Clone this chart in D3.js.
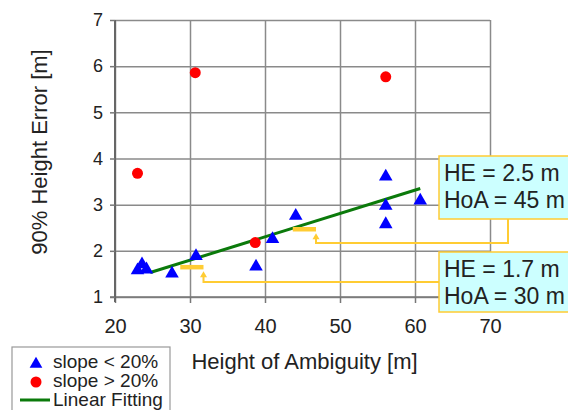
<!DOCTYPE html>
<html lang="en">
	<head>
		<meta charset="utf-8">
		<title>90% Height Error vs Height of Ambiguity</title>
		<script src="https://d3js.org/d3.v7.min.js"></script>
		<style type="text/css">
			body { margin: 0; background: #fff; }
			text { font-family: Arial, "Liberation Sans", sans-serif; fill: #222; }
		</style>
	</head>
	<body>
		<script type="text/javascript">
			//Size of the picture
			var width = 568;
			var height = 410;
			var plot = { left: 115, right: 490, top: 20, bottom: 297 };

			//Data
			var xTicks = [20, 30, 40, 50, 60, 70];
			var yTicks = [1, 2, 3, 4, 5, 6, 7];

			var lowSlopeHoA = [23.0, 23.6, 24.2, 27.6, 30.8, 38.8, 41.0, 44.1, 56.1, 56.1, 56.1, 60.7];
			var lowSlopeHE  = [1.62, 1.75, 1.64, 1.55, 1.93, 1.70, 2.30, 2.80, 3.65, 3.02, 2.62, 3.13];

			var highSlopeHoA = [30.7, 56.1, 23.0, 38.7];
			var highSlopeHE  = [5.86, 5.77, 3.68, 2.18];

			var fitHoA = [24.7, 60.7];
			var fitHE  = [1.53, 3.35];

			var noteHE  = ["2.5", "1.7"];
			var noteHoA = [45, 30];

			var x = d3.scaleLinear()
				.domain([20, 70])
				.range([plot.left, plot.right]);

			var y = d3.scaleLinear()
				.domain([1, 7])
				.range([plot.bottom, plot.top]);

			var svg = d3.select("body")
						.append("svg")
							.attr("width", width)
							.attr("height", height);

			//Grid lines
			svg.append("g")
				.attr("transform", "translate(0," + plot.bottom + ")")
				.call(d3.axisBottom(x).tickValues(xTicks).tickSize(-(plot.bottom - plot.top)).tickFormat(""))
				.call(function(g) { g.select(".domain").remove(); })
				.selectAll("line")
				.attr("stroke", "#8a8a8a")
				.attr("stroke-width", 1.5);

			svg.append("g")
				.attr("transform", "translate(" + plot.left + ",0)")
				.call(d3.axisLeft(y).tickValues(yTicks).tickSize(-(plot.right - plot.left)).tickFormat(""))
				.call(function(g) { g.select(".domain").remove(); })
				.selectAll("line")
				.attr("stroke", "#8a8a8a")
				.attr("stroke-width", 1.5);

			//Axes
			var xAxis = svg.append("g")
				.attr("transform", "translate(0," + plot.bottom + ")")
				.call(d3.axisBottom(x).tickValues(xTicks).tickFormat(d3.format("d")).tickSize(6).tickPadding(16).tickSizeOuter(0));
			xAxis.select(".domain").attr("d", "M" + (plot.left - 5) + ",0H" + plot.right).attr("stroke", "#777").attr("stroke-width", 1.5);
			xAxis.selectAll("line").attr("stroke", "#777").attr("stroke-width", 1.5);
			xAxis.selectAll("text").attr("font-size", "20px").attr("fill", "#222")
				.attr("font-family", "Arial, 'Liberation Sans', sans-serif");

			var yAxis = svg.append("g")
				.attr("transform", "translate(" + plot.left + ",0)")
				.call(d3.axisLeft(y).tickValues(yTicks).tickFormat(d3.format("d")).tickSize(5).tickPadding(7).tickSizeOuter(0));
			yAxis.select(".domain").attr("d", "M0," + plot.top + "V" + (plot.bottom + 5)).attr("stroke", "#666").attr("stroke-width", 2);
			yAxis.selectAll("line").attr("stroke", "#777").attr("stroke-width", 1.5);
			yAxis.selectAll("text").attr("font-size", "18px").attr("fill", "#222")
				.attr("font-family", "Arial, 'Liberation Sans', sans-serif");

			//Axis titles
			svg.append("text")
				.attr("x", (plot.left + plot.right) / 2 + 2)
				.attr("y", 369)
				.attr("text-anchor", "middle")
				.attr("font-size", "22px")
				.text("Height of Ambiguity [m]");

			svg.append("text")
				.attr("transform", "translate(47,152) rotate(-90)")
				.attr("text-anchor", "middle")
				.attr("font-size", "22px")
				.text("90% Height Error [m]");

			//Linear fitting
			svg.append("path")
				.datum(d3.zip(fitHoA, fitHE))
				.attr("fill", "none")
				.attr("stroke", "#0b7a0b")
				.attr("stroke-width", 3)
				.attr("d", d3.line().x(function(d) { return x(d[0]); }).y(function(d) { return y(d[1]); }));

			//Points
			svg.selectAll(".low")
				.data(d3.zip(lowSlopeHoA, lowSlopeHE))
				.enter()
				.append("path")
				.attr("class", "low")
				.attr("transform", function(d) { return "translate(" + x(d[0]) + "," + (y(d[1]) + 2) + ")"; })
				.attr("d", d3.symbol().type(d3.symbolTriangle).size(80))
				.attr("fill", "#0000ff");

			svg.selectAll(".high")
				.data(d3.zip(highSlopeHoA, highSlopeHE))
				.enter()
				.append("circle")
				.attr("class", "high")
				.attr("cx", function(d) { return x(d[0]); })
				.attr("cy", function(d) { return y(d[1]); })
				.attr("r", 5.5)
				.attr("fill", "#ff0000");

			//Annotations
			var gold = "#ffcc33";
			var boxes = [
				{ top: 156, h: 63, link: function(i) { return "M508,219V243H" + x(noteHoA[i] + 1.8) + "V" + (y(+noteHE[i]) + 9); } },
				{ top: 252, h: 60, link: function(i) { return "M439,282H" + x(noteHoA[i] + 1.8) + "V" + (y(+noteHE[i]) + 11); } }
			];

			boxes.forEach(function(b, i) {
				var barY = y(+noteHE[i]) + 1.5 + i;
				svg.append("line")
					.attr("x1", x(noteHoA[i] - 1.3))
					.attr("x2", x(noteHoA[i] + 1.8))
					.attr("y1", barY)
					.attr("y2", barY)
					.attr("stroke", gold)
					.attr("stroke-width", 4.5);

				svg.append("path")
					.attr("d", b.link(i))
					.attr("fill", "none")
					.attr("stroke", gold)
					.attr("stroke-width", 2);

				var ax = x(noteHoA[i] + 1.8);
				var ay = barY + 4;
				svg.append("path")
					.attr("d", "M" + ax + "," + ay + "l-3.5,6h7z")
					.attr("fill", gold);

				svg.append("rect")
					.attr("x", 439)
					.attr("y", b.top)
					.attr("width", 200)
					.attr("height", b.h)
					.attr("fill", "#ccffff")
					.attr("stroke", gold)
					.attr("stroke-width", 1.5);

				svg.append("text")
					.attr("x", 444)
					.attr("y", b.top + 25)
					.attr("font-size", "23px")
					.text("HE = " + noteHE[i] + " m");

				svg.append("text")
					.attr("x", 444)
					.attr("y", b.top + 52)
					.attr("font-size", "23px")
					.text("HoA = " + noteHoA[i] + " m");
			});

			//Legend
			var legend = svg.append("g");
			legend.append("rect")
				.attr("x", 12)
				.attr("y", 347)
				.attr("width", 158)
				.attr("height", 80)
				.attr("fill", "#fff")
				.attr("stroke", "#999")
				.attr("stroke-width", 1.2);

			legend.append("path")
				.attr("transform", "translate(36,364)")
				.attr("d", d3.symbol().type(d3.symbolTriangle).size(70))
				.attr("fill", "#0000ff");
			legend.append("circle")
				.attr("cx", 36)
				.attr("cy", 382)
				.attr("r", 5.5)
				.attr("fill", "#ff0000");
			legend.append("line")
				.attr("x1", 20)
				.attr("x2", 50)
				.attr("y1", 400)
				.attr("y2", 400)
				.attr("stroke", "#0b7a0b")
				.attr("stroke-width", 3);

			legend.selectAll(".item")
				.data(["slope < 20%", "slope > 20%", "Linear Fitting"])
				.enter()
				.append("text")
				.attr("class", "item")
				.attr("x", 53)
				.attr("y", function(d, i) { return 368 + i * 19; })
				.attr("font-size", "19px")
				.text(function(d) { return d; });
		</script>
	</body>
</html>
